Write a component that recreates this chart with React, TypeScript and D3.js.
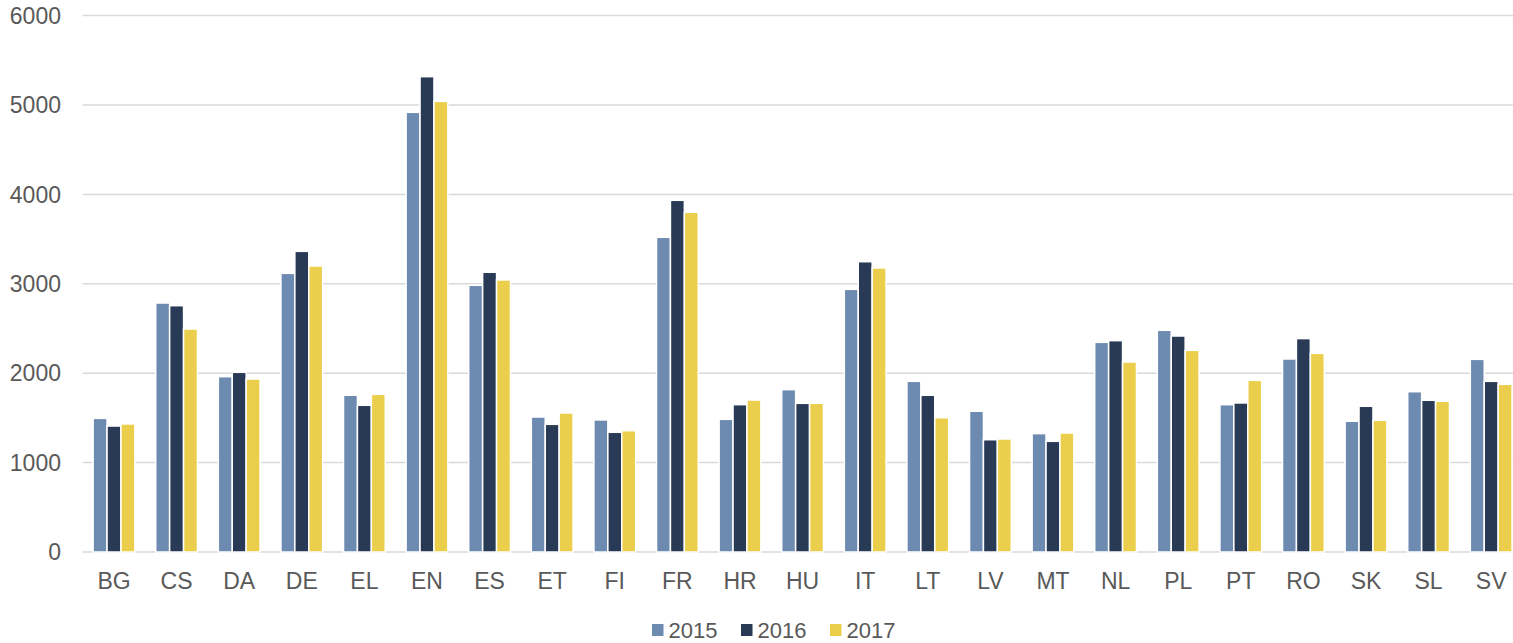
import React from 'react';
import * as d3 from 'd3';

const categories = ['BG', 'CS', 'DA', 'DE', 'EL', 'EN', 'ES', 'ET', 'FI', 'FR', 'HR', 'HU', 'IT', 'LT', 'LV', 'MT', 'NL', 'PL', 'PT', 'RO', 'SK', 'SL', 'SV'];
const years = ['2015', '2016', '2017'];
const values2015 = [1495, 2785, 1961, 3117, 1753, 4918, 2983, 1510, 1477, 3520, 1484, 1816, 2938, 1909, 1574, 1324, 2345, 2480, 1648, 2159, 1462, 1793, 2155];
const values2016 = [1409, 2755, 2010, 3363, 1641, 5317, 3129, 1428, 1339, 3934, 1648, 1663, 3247, 1753, 1256, 1238, 2364, 2416, 1667, 2387, 1630, 1697, 1909];
const values2017 = [1432, 2494, 1935, 3199, 1764, 5041, 3043, 1555, 1357, 3800, 1700, 1663, 3177, 1502, 1264, 1331, 2125, 2256, 1920, 2222, 1473, 1686, 1876];
const yTicks = [0, 1000, 2000, 3000, 4000, 5000, 6000];
const colors = ['#6d8ab0', '#283a55', '#ebcf4c'];

const width = 1513;
const height = 643;
const font = '"Liberation Sans", Arial, sans-serif';
const textColor = '#595959';

const App = () => {
    const seriesValues = [values2015, values2016, values2017];

    // plot area runs a bit past the window on the right, like the original
    const x0 = d3
        .scaleBand()
        .domain(categories)
        .range([82.7, 1522.5])
        .paddingInner(1 / 3)
        .paddingOuter(1 / 6);

    const x1 = d3
        .scaleBand()
        .domain(years)
        .range([0, x0.bandwidth()]);

    const y = d3
        .scaleLinear()
        .domain([0, 6000])
        .range([552, 15.6]);

    const legendX = d3
        .scalePoint()
        .domain(years)
        .range([652, 830]);

    return (
        <svg
            width={width}
            height={height}
            style={{ position: 'absolute', left: 0, top: 0, background: '#fff' }}
        >
            {/* gridlines */}
            {yTicks.map((t) => (
                <line
                    key={'g' + t}
                    x1={82.7}
                    x2={width}
                    y1={y(t)}
                    y2={y(t)}
                    stroke="#d9d9d9"
                    strokeWidth={1.5}
                />
            ))}

            {/* y tick labels */}
            {yTicks.map((t) => (
                <text
                    key={'t' + t}
                    x={61}
                    y={y(t)}
                    dy="0.36em"
                    textAnchor="end"
                    fontFamily={font}
                    fontSize={23}
                    fill={textColor}
                >
                    {t}
                </text>
            ))}

            {/* bars */}
            {categories.map((c, i) => (
                <g key={c} transform={`translate(${x0(c)},0)`}>
                    {years.map((yr, s) => {
                        const v = seriesValues[s][i];
                        return (
                            <rect
                                key={yr}
                                x={x1(yr)}
                                y={y(v)}
                                width={x1.bandwidth()}
                                height={y(0) - y(v)}
                                fill={colors[s]}
                                stroke="#ffffff"
                                strokeWidth={1.5}
                            />
                        );
                    })}
                </g>
            ))}

            {/* category labels */}
            {categories.map((c) => (
                <text
                    key={'c' + c}
                    x={(x0(c) as number) + x0.bandwidth() / 2}
                    y={589}
                    textAnchor="middle"
                    fontFamily={font}
                    fontSize={23}
                    fill={textColor}
                >
                    {c}
                </text>
            ))}

            {/* legend, nudged up a little so the text is not clipped */}
            {years.map((yr, s) => (
                <g key={'l' + yr} transform={`translate(${legendX(yr)},0)`}>
                    <rect x={0} y={624} width={11.5} height={12} fill={colors[s]} />
                    <text
                        x={16.5}
                        y={637.5}
                        fontFamily={font}
                        fontSize={22}
                        fill={textColor}
                    >
                        {yr}
                    </text>
                </g>
            ))}
        </svg>
    );
};

export default App;
